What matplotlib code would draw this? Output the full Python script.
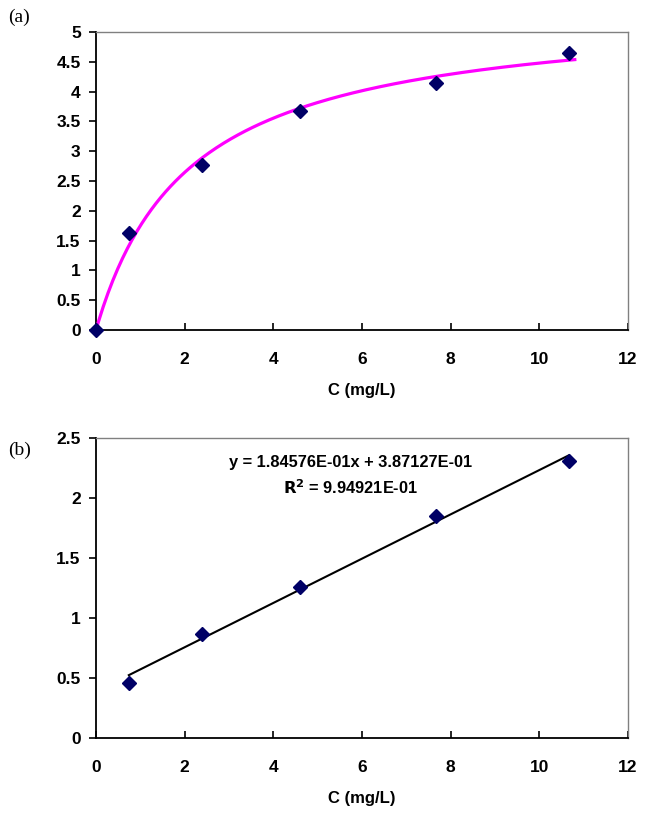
import numpy as np
import matplotlib.pyplot as plt

# Data
C = np.array([0.0, 0.74, 2.40, 4.60, 7.66, 10.67])
q = np.array([0.0, 1.62, 2.77, 3.67, 4.15, 4.64])

# Linearised data (panel b), C/q vs C
C_lin = np.array([0.74, 2.40, 4.60, 7.66, 10.67])
Cq_lin = np.array([0.46, 0.87, 1.26, 1.85, 2.31])

# Trendline from the equation shown in panel b
slope = 1.84576e-01
intercept = 3.87127e-01
r2 = 9.94921e-01

qm = 1.0 / slope
K = slope / intercept

x_ticks = [0, 2, 4, 6, 8, 10, 12]
ya_ticks = [0, 0.5, 1, 1.5, 2, 2.5, 3, 3.5, 4, 4.5, 5]
yb_ticks = [0, 0.5, 1, 1.5, 2, 2.5]

plt.rcParams['font.family'] = ['Liberation Sans', 'DejaVu Sans']
plt.rcParams['font.weight'] = 'bold'

fig = plt.figure(figsize=(6.49, 8.19), dpi=100)
W, H = 649, 819
ax_a = fig.add_axes([96 / W, 1 - 330 / H, 532 / W, 298 / H])
ax_b = fig.add_axes([96 / W, 1 - 738 / H, 532 / W, 300 / H])

marker_kw = dict(marker='D', color='#000066', markersize=7, linestyle='none',
                 zorder=5, clip_on=False)


def style(ax, yticks):
    ax.set_xlim(0, 12)
    ax.set_ylim(yticks[0], yticks[-1])
    ax.set_xticks(x_ticks)
    ax.set_yticks(yticks)
    ax.set_yticklabels([f'{t:g}' for t in yticks])
    for s in ['top', 'right']:
        ax.spines[s].set_color('#808080')
        ax.spines[s].set_linewidth(1.0)
    for s in ['left', 'bottom']:
        ax.spines[s].set_color('black')
        ax.spines[s].set_linewidth(1.3)
    ax.tick_params(axis='x', direction='in', length=5, width=1.2, pad=16, labelsize=12.5)
    ax.tick_params(axis='y', direction='out', length=5, width=1.2, pad=6, labelsize=12.5)
    ax.set_xlabel('C (mg/L)', fontsize=12, fontweight='bold', labelpad=11)


# (a) isotherm
C_fit = np.linspace(0, 10.8, 200)
q_fit = qm * K * C_fit / (1 + K * C_fit)
ax_a.plot(C_fit, q_fit, color='#FF00FF', linewidth=2.3, zorder=3)
ax_a.plot(C, q, **marker_kw)
style(ax_a, ya_ticks)

# (b) linearised form
x_line = np.array([C_lin.min(), C_lin.max()])
ax_b.plot(x_line, slope * x_line + intercept, color='black', linewidth=1.5, zorder=3)
ax_b.plot(C_lin, Cq_lin, **marker_kw)
style(ax_b, yb_ticks)
fig.text(351 / W, 1 - 463 / H, 'y = 1.84576E-01x + 3.87127E-01',
         ha='center', va='center', fontsize=11.8, fontweight='bold')
fig.text(351 / W, 1 - 488 / H, '$\\mathbf{R^2}$ = 9.94921E-01',
         ha='center', va='center', fontsize=11.8, fontweight='bold')

# panel labels
fig.text(8 / W, 1 - 17 / H, '(a)', family=['Liberation Serif', 'DejaVu Serif'],
         fontweight='normal', fontsize=14, va='center', ha='left')
fig.text(8 / W, 1 - 450 / H, '(b)', family=['Liberation Serif', 'DejaVu Serif'],
         fontweight='normal', fontsize=14, va='center', ha='left')

fig.savefig('out.png', dpi=100)
